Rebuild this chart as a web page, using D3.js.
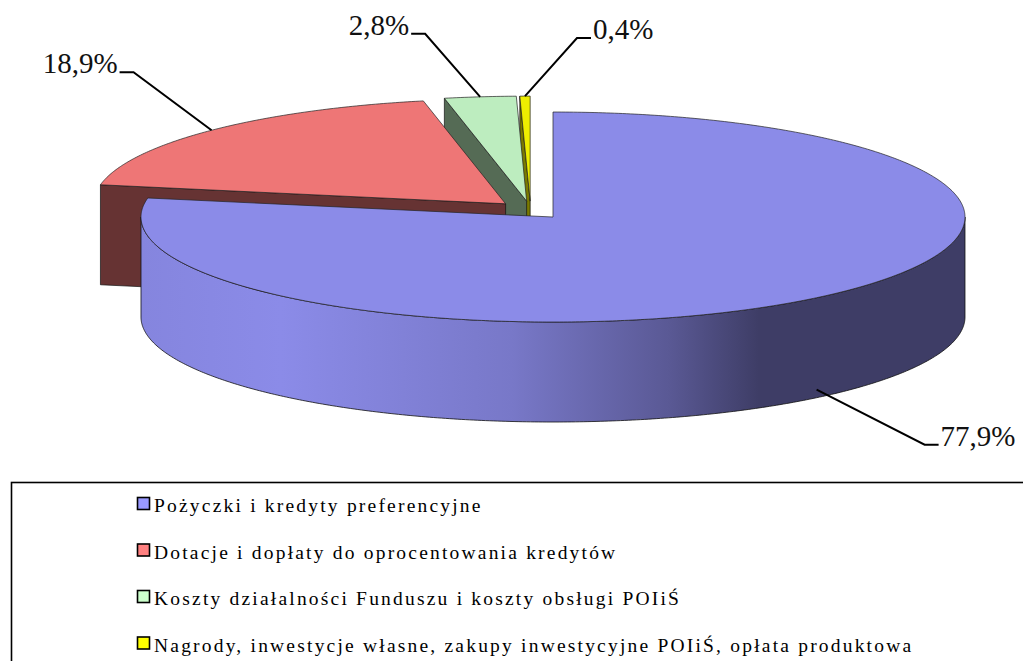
<!DOCTYPE html>
<html>
<head>
<meta charset="utf-8">
<script src="https://cdn.jsdelivr.net/npm/d3@7"></script>
<style>
body { margin: 0; background: #fff; }
</style>
</head>
<body>
<svg id="chart"></svg>
<script>
// data
var categories = [
    "Pożyczki i kredyty preferencyjne",
    "Dotacje i dopłaty do oprocentowania kredytów",
    "Koszty działalności Funduszu i koszty obsługi POIiŚ",
    "Nagrody, inwestycje własne, zakupy inwestycyjne POIiŚ, opłata produktowa"
];
var shares = [77.9, 18.9, 2.8, 0.4];
var shareLabels = ["77,9%", "18,9%", "2,8%", "0,4%"];

// layout / style
var width = 1023, height = 661;
var cx = 530.6, cy = 210.1, rx = 412, ry = 105, depth = 100;
var explodeX = 35, explodeY = 9;
var serif = "'Liberation Serif', 'Times New Roman', 'DejaVu Serif', serif";

var topColors = ["#8b8be8", "#ee7676", "#bdedbf", "#eeee00"];
var sideColors = ["#3e3d66", "#663333", "#556b55", "#7a7a00"];
var swatchColors = ["#9999ff", "#ff8080", "#ccffcc", "#ffff00"];
// leader elbow offset from the slice anchor
var labelNudge = [[108, 55], [-78, -58], [-55, -63], [52, -58]];

var svg = d3.select("svg#chart")
    .attr("width", width)
    .attr("height", height)
    .attr("font-family", serif);

var defs = svg.append("defs");

var pie = d3.pie().sort(null).value(function(d){ return d; });
var slices = pie(shares);

slices.forEach(function(d, i){
    d.index = i;
    d.mid = (d.startAngle + d.endAngle) / 2;
    d.c = [cx + explodeX * Math.sin(d.mid), cy - explodeY * Math.cos(d.mid)];
});

function pt(c, a, dz){
    return [c[0] + rx * Math.sin(a), c[1] - ry * Math.cos(a) + (dz || 0)];
}
function arcPts(c, a0, a1, dz){
    var n = Math.max(2, Math.ceil(Math.abs(a1 - a0) / 0.01));
    return d3.range(n + 1).map(function(k){ return pt(c, a0 + (a1 - a0) * k / n, dz); });
}
var line = d3.line();

// wall shading gradient per slice
slices.forEach(function(d, i){
    var mix = d3.interpolateRgb(topColors[i], sideColors[i]);
    var g = defs.append("linearGradient")
        .attr("id", "wall" + i)
        .attr("gradientUnits", "userSpaceOnUse")
        .attr("x1", d.c[0] - rx).attr("x2", d.c[0] + rx)
        .attr("y1", 0).attr("y2", 0);
    [[0, 0.08], [0.17, 0], [0.45, 0.25], [0.64, 0.64], [0.75, 1], [1, 1]].forEach(function(s){
        g.append("stop").attr("offset", s[0]).attr("stop-color", mix(s[1]));
    });
});

// back to front
var order = slices.slice().sort(function(a, b){ return -Math.cos(a.mid) + Math.cos(b.mid); });

var pieG = svg.append("g");

order.forEach(function(d){
    var i = d.index, c = d.c, a0 = d.startAngle, a1 = d.endAngle;
    var g = pieG.append("g");

    // radial cut faces
    [[a0, Math.sin(a0) < -1e-6], [a1, Math.sin(a1) > 1e-6]].forEach(function(f){
        if (!f[1]) return;
        var o = pt(c, f[0], 0), ob = pt(c, f[0], depth);
        g.append("path")
            .attr("d", line([c, o, ob, [c[0], c[1] + depth]]) + "Z")
            .attr("fill", sideColors[i])
            .attr("stroke", "#111")
            .attr("stroke-width", 0.7);
    });

    // outer wall (front half only)
    var s = Math.max(a0, Math.PI / 2), e = Math.min(a1, 3 * Math.PI / 2);
    if (e > s){
        var pts = arcPts(c, s, e, 0).concat(arcPts(c, e, s, depth));
        g.append("path")
            .attr("d", line(pts) + "Z")
            .attr("fill", "url(#wall" + i + ")")
            .attr("stroke", "#111")
            .attr("stroke-width", 0.8);
    }

    // top face
    g.append("path")
        .attr("d", line([c].concat(arcPts(c, a0, a1, 0))) + "Z")
        .attr("fill", topColors[i])
        .attr("stroke", "#222")
        .attr("stroke-width", 0.7);
});

// data labels with leader lines
var labG = svg.append("g");
slices.forEach(function(d, i){
    var front = Math.cos(d.mid) < 0;
    var anchor = pt(d.c, d.mid, front ? depth * 0.92 : 0);
    var elbow = [anchor[0] + labelNudge[i][0], anchor[1] + labelNudge[i][1]];
    var dir = labelNudge[i][0] < 0 ? -1 : 1;
    var end = [elbow[0] + dir * 14, elbow[1]];

    labG.append("path")
        .attr("d", line([anchor, elbow, end]))
        .attr("fill", "none")
        .attr("stroke", "#000")
        .attr("stroke-width", 2);

    labG.append("text")
        .attr("x", end[0] + dir * 2)
        .attr("y", end[1] + 1)
        .attr("text-anchor", dir < 0 ? "end" : "start")
        .attr("font-family", serif)
        .attr("font-size", 29)
        .attr("fill", "#111")
        .text(shareLabels[i]);
});

// legend
var legend = svg.append("g");
legend.append("rect")
    .attr("x", 11.5).attr("y", 482.5)
    .attr("width", 1030).attr("height", 200)
    .attr("fill", "#fff")
    .attr("stroke", "#000")
    .attr("stroke-width", 1.6);

var item = legend.selectAll("g.item")
    .data(categories)
    .enter()
    .append("g")
    .attr("class", "item")
    .attr("transform", function(d, i){
        return "translate(0," + (512 + i * 46.5) + ")";
    });

item.append("rect")
    .attr("x", 137.5).attr("y", -14.5)
    .attr("width", 12).attr("height", 12)
    .attr("fill", function(d, i){ return swatchColors[i]; })
    .attr("stroke", "#000")
    .attr("stroke-width", 1.6);

item.append("text")
    .attr("x", 154)
    .attr("y", 0)
    .attr("font-family", serif)
    .attr("font-size", 19.5)
    .attr("letter-spacing", 2.2)
    .attr("fill", "#000")
    .text(function(d){ return d; });
</script>
</body>
</html>
